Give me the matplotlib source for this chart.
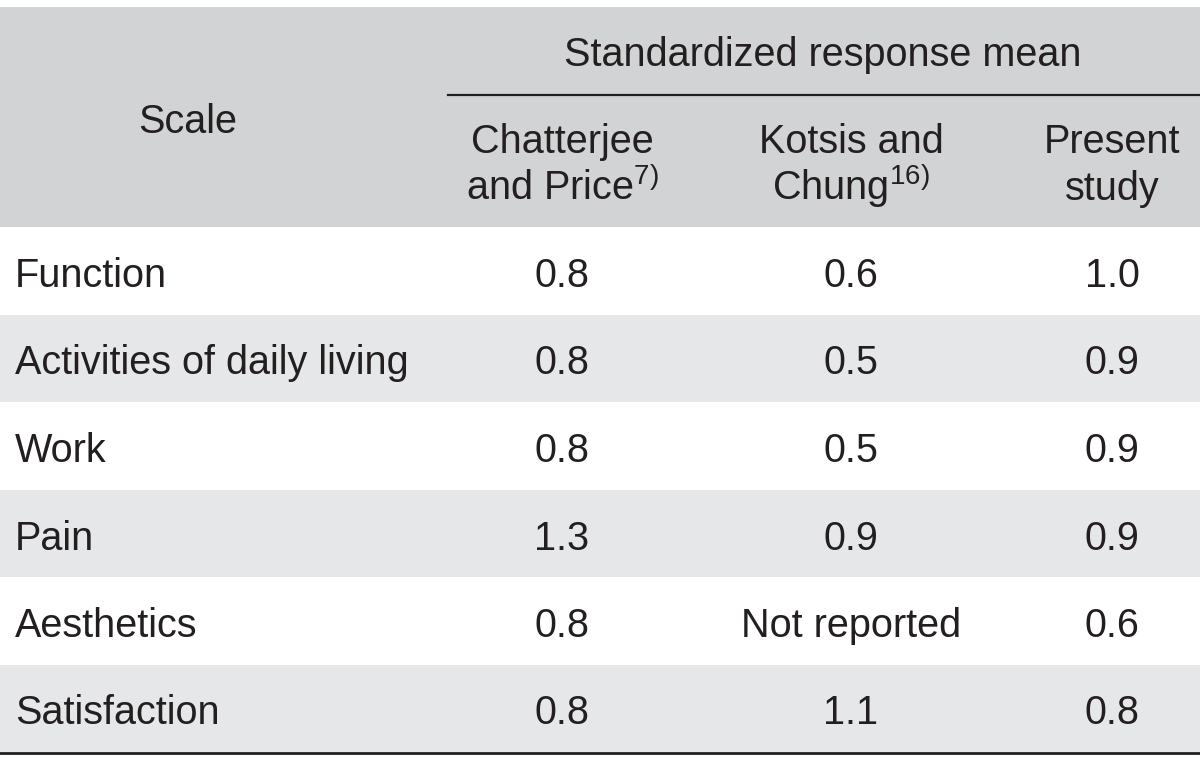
import matplotlib
matplotlib.use("Agg")
import matplotlib.pyplot as plt
from matplotlib import font_manager

names = {f.name for f in font_manager.fontManager.ttflist}
fam = "Liberation Sans Narrow" if "Liberation Sans Narrow" in names else "Liberation Sans"
plt.rcParams['font.family'] = [fam, 'DejaVu Sans']
plt.rcParams['mathtext.default'] = 'regular'

scales = ["Function", "Activities of daily living", "Work", "Pain", "Aesthetics", "Satisfaction"]
chatterjee = ["0.8", "0.8", "0.8", "1.3", "0.8", "0.8"]
kotsis = ["0.6", "0.5", "0.5", "0.9", "Not reported", "1.1"]
present = ["1.0", "0.9", "0.9", "0.9", "0.6", "0.8"]
col_heads = [("Chatterjee", "and Price$^{7)}$"),
             ("Kotsis and", "Chung$^{16)}$"),
             ("Present", "study")]
group_head = "Standardized response mean"

W, H = 1200, 758
fig = plt.figure(figsize=(12, 7.58), dpi=100)
ax = fig.add_axes([0, 0, 1, 1])
ax.set_xlim(0, W)
ax.set_ylim(H, 0)
ax.axis('off')

head_top, head_bot = 7, 227
row_h = 87.5
col_x = [562, 851, 1112]
txt = "#231f20"
fs = 28.5

# header block
ax.axhspan(head_top, head_bot, color="#d1d3d4", lw=0)
ax.text(188, 133, "Scale", ha='center', va='baseline', fontsize=fs, color=txt)
ax.text(823, 66, group_head, ha='center', va='baseline', fontsize=fs, color=txt)
ax.plot([448, W], [95, 95], color=txt, lw=1.6)
for x, (l1, l2) in zip(col_x, col_heads):
    ax.text(x, 153, l1, ha='center', va='baseline', fontsize=fs, color=txt)
    ax.text(x, 200, l2, ha='center', va='baseline', fontsize=fs, color=txt)

# body rows
for i, s in enumerate(scales):
    y0 = head_bot + i * row_h
    if i % 2 == 1:
        ax.axhspan(y0, y0 + row_h, color="#e6e7e8", lw=0)
    yb = y0 + 60
    ax.text(15, yb, s, ha='left', va='baseline', fontsize=fs, color=txt)
    for x, v in zip(col_x, [chatterjee[i], kotsis[i], present[i]]):
        ax.text(x, yb, v, ha='center', va='baseline', fontsize=fs, color=txt)

ax.plot([0, W], [head_bot + len(scales) * row_h + 1] * 2, color=txt, lw=2)

fig.savefig("out.png", dpi=100)
